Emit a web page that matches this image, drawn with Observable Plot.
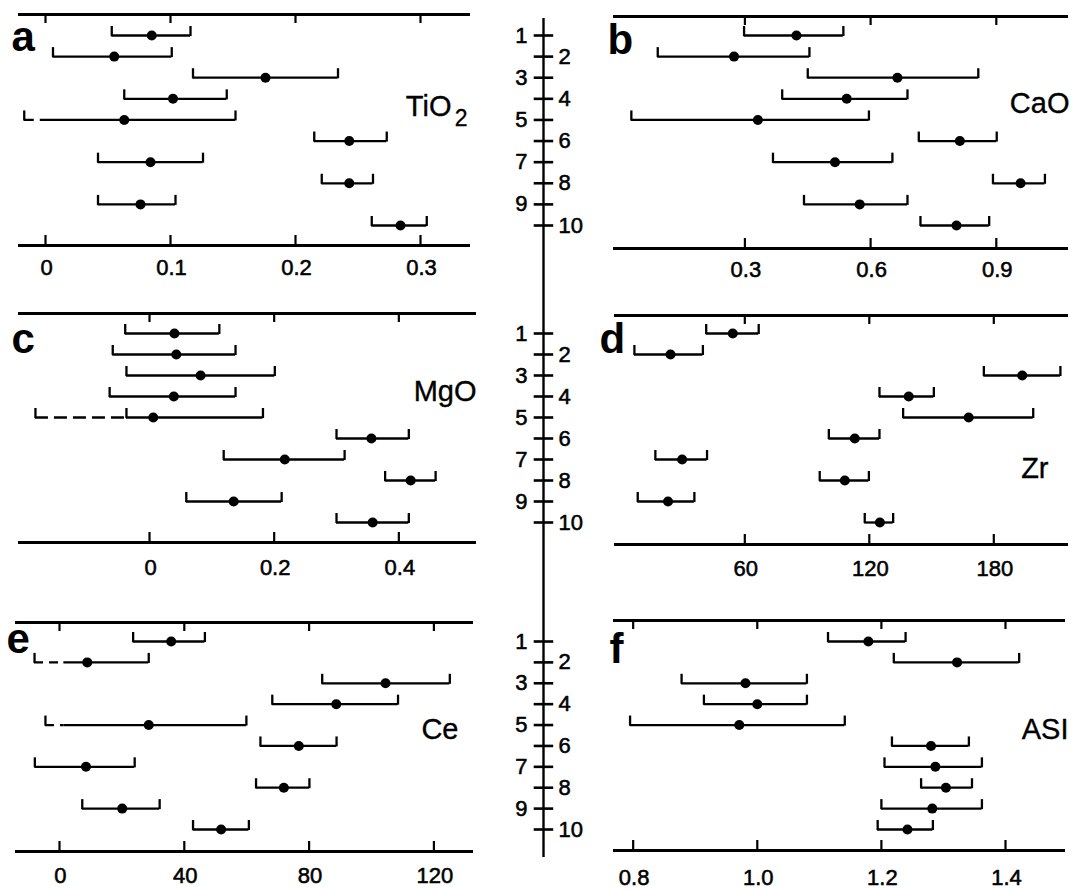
<!DOCTYPE html>
<html><head><meta charset="utf-8">
<script src="https://cdn.jsdelivr.net/npm/d3@7"></script>
<script src="https://cdn.jsdelivr.net/npm/@observablehq/plot@0.6"></script>
<style>
body{margin:0;background:#fff;}
#chart{position:relative;width:1075px;height:889px;background:#fff;overflow:hidden;}
#chart svg{position:absolute;overflow:visible !important;max-width:none !important;}
g[aria-label="ticklab"] text{letter-spacing:2px;}
</style></head><body><div id="chart"></div>
<script>
// sample numbers (rows)
const rows = [1,2,3,4,5,6,7,8,9,10];

// a: TiO2
const tioLo  = [0.053, 0.006, 0.118, 0.063, -0.017, 0.215, 0.042, 0.221, 0.042, 0.261];
const tioMid = [0.085, 0.055, 0.176, 0.102, 0.063, 0.243, 0.084, 0.243, 0.076, 0.284];
const tioHi  = [0.116, 0.101, 0.234, 0.145, 0.152, 0.273, 0.126, 0.262, 0.104, 0.305];
const tioDash = [null, null, null, null, -0.004, null, null, null, null, null];
const tioTicks = [0, 0.1, 0.2, 0.3];
const tioTickLabels = ["0", "0.1", "0.2", "0.3"];

// b: CaO
const caoLo  = [0.298, 0.092, 0.450, 0.389, 0.029, 0.715, 0.367, 0.892, 0.441, 0.719];
const caoMid = [0.423, 0.274, 0.664, 0.543, 0.331, 0.813, 0.515, 0.958, 0.574, 0.805];
const caoHi  = [0.535, 0.454, 0.857, 0.688, 0.596, 0.901, 0.652, 1.016, 0.688, 0.883];
const caoDash = [null, null, null, null, null, null, null, null, null, null];
const caoTicks = [0.3, 0.6, 0.9];
const caoTickLabels = ["0.3", "0.6", "0.9"];

// c: MgO
const mgoLo  = [-0.039, -0.059, -0.037, -0.064, -0.183, 0.300, 0.119, 0.378, 0.059, 0.300];
const mgoMid = [0.040, 0.043, 0.082, 0.039, 0.006, 0.356, 0.217, 0.419, 0.135, 0.358];
const mgoHi  = [0.112, 0.138, 0.201, 0.138, 0.182, 0.416, 0.313, 0.459, 0.212, 0.416];
const mgoDash = [null, null, null, null, -0.037, null, null, null, null, null];
const mgoTicks = [0, 0.2, 0.4];
const mgoTickLabels = ["0", "0.2", "0.4"];

// d: Zr
const zrLo  = [41.4, 6.8, 175.2, 124.9, 136.3, 100.5, 16.9, 96.1, 8.4, 117.8];
const zrMid = [54.2, 24.2, 193.7, 139.0, 167.9, 113.0, 29.8, 108.2, 23.0, 125.1];
const zrHi  = [66.7, 39.8, 212.1, 151.1, 199.0, 124.9, 41.8, 119.8, 35.7, 131.5];
const zrDash = [null, null, null, null, null, null, null, null, null, null];
const zrTicks = [60, 120, 180];
const zrTickLabels = ["60", "120", "180"];

// e: Ce
const ceLo  = [23.6, -8.0, 84.2, 68.2, -4.5, 64.4, -7.9, 63.0, 7.3, 42.8];
const ceMid = [35.8, 8.9, 104.5, 88.7, 28.6, 76.7, 8.5, 71.9, 20.1, 51.8];
const ceHi  = [46.6, 28.6, 125.1, 108.5, 59.9, 88.8, 24.1, 80.1, 32.1, 60.7];
const ceDash = [null, 1.4, null, null, 1.4, null, null, null, null, null];
const ceTicks = [0, 40, 80, 120];
const ceTickLabels = ["0", "40", "80", "120"];

// f: ASI
const asiLo  = [1.114, 1.220, 0.878, 0.914, 0.795, 1.217, 1.205, 1.264, 1.200, 1.194];
const asiMid = [1.179, 1.322, 0.981, 1.000, 0.971, 1.280, 1.287, 1.304, 1.282, 1.242];
const asiHi  = [1.239, 1.422, 1.080, 1.080, 1.141, 1.341, 1.362, 1.346, 1.362, 1.283];
const asiDash = [null, null, null, null, null, null, null, null, null, null];
const asiTicks = [0.8, 1.0, 1.2, 1.4];
const asiTickLabels = ["0.8", "1.0", "1.2", "1.4"];

const FONT = "'Liberation Sans', Arial, Helvetica, sans-serif";
const sec = [{r1:35, r10:225}, {r1:333, r10:522}, {r1:641, r10:829}];

const panels = [
  {id:"a", name:"TiO", sub:"2", lo:tioLo, mid:tioMid, hi:tioHi, dash:tioDash, dashCap:false, dashArr:"10,6",
   ticks:tioTicks, labels:tioTickLabels, domain:[-0.0216, 0.34], x0:18, x1:470, top:14, bottom:245, s:0,
   L:{dx:-7, dy:36}, N:{dx:-19, dy:101}, labDy:22},
  {id:"b", name:"CaO", lo:caoLo, mid:caoMid, hi:caoHi, dash:caoDash, dashCap:false, dashArr:"10,6",
   ticks:caoTicks, labels:caoTickLabels, domain:[-0.0136, 1.0723], x0:613, x1:1068, top:16, bottom:248, s:0,
   L:{dx:-6, dy:37}, N:{dx:1, dy:96}, labDy:21},
  {id:"c", name:"MgO", lo:mgoLo, mid:mgoMid, hi:mgoHi, dash:mgoDash, dashCap:true, dashArr:"13,6",
   ticks:mgoTicks, labels:mgoTickLabels, domain:[-0.2102, 0.5246], x0:18, x1:476, top:313, bottom:542, s:1,
   L:{dx:-7, dy:39}, N:{dx:0, dy:87}, labDy:25},
  {id:"d", name:"Zr", lo:zrLo, mid:zrMid, hi:zrHi, dash:zrDash, dashCap:false, dashArr:"10,6",
   ticks:zrTicks, labels:zrTickLabels, domain:[-2.795, 216.0], x0:614, x1:1068, top:315, bottom:544, s:1,
   L:{dx:-15, dy:37}, N:{dx:-20, dy:162}, labDy:24},
  {id:"e", name:"Ce", lo:ceLo, mid:ceMid, hi:ceHi, dash:ceDash, dashCap:false, dashArr:"9,6",
   ticks:ceTicks, labels:ceTickLabels, domain:[-14.10, 132.69], x0:15, x1:473, top:622, bottom:851, s:2,
   L:{dx:-9, dy:30}, N:{dx:-15, dy:116}, labDy:24},
  {id:"f", name:"ASI", lo:asiLo, mid:asiMid, hi:asiHi, dash:asiDash, dashCap:false, dashArr:"10,6",
   ticks:asiTicks, labels:asiTickLabels, domain:[0.7683, 1.4967], x0:613, x1:1065, top:620, bottom:850, s:2,
   L:{dx:-4, dy:42}, N:{dx:3, dy:118}, labDy:27}
];

const chart = document.getElementById("chart");
const numStyle = {fontSize: 22, fill: "black", stroke: "black", strokeWidth: 0.55};

for (const p of panels) {
  const mL = 22, mR = 12, mT = 6, mB = 50;
  const W = p.x1 - p.x0 + mL + mR;
  const H = p.bottom - p.top + mT + mB;
  const {r1, r10} = sec[p.s];
  const rowPx = (r10 - r1) / 9;
  const yTopV = 1 + (p.top - r1) / rowPx;
  const yBotV = 1 + (p.bottom - r1) / rowPx;
  const px = v => v / rowPx;   // pixels -> row units
  const data = rows.map((r, i) => ({row: r, lo: p.lo[i], mid: p.mid[i], hi: p.hi[i], dash: p.dash[i]}));
  const caps = data.flatMap(d => {
    const c = [{x: d.lo, row: d.row}, {x: d.hi, row: d.row}];
    if (p.dashCap && d.dash != null) c.push({x: d.dash, row: d.row});
    return c;
  });
  const marks = [
    Plot.ruleY([yTopV, yBotV], {strokeWidth: 2.8}),
    Plot.ruleX(p.ticks, {x: d => d, y1: yTopV, y2: yTopV + px(9), strokeWidth: 2.2}),
    Plot.ruleX(p.ticks, {x: d => d, y1: yBotV, y2: yBotV - px(10), strokeWidth: 2.2}),
    Plot.text(p.labels, {x: (d, i) => p.ticks[i], text: d => d, frameAnchor: "bottom", dy: p.labDy, dx: 1,
      lineAnchor: "middle", ariaLabel: "ticklab", ...numStyle}),
    Plot.ruleY(data.filter(d => d.dash != null), {y: "row", x1: "lo", x2: "dash", strokeWidth: 2.3, strokeDasharray: p.dashArr}),
    Plot.ruleY(data, {y: "row", x1: d => d.dash != null ? d.dash : d.lo, x2: "hi", strokeWidth: 2.3}),
    Plot.ruleX(caps, {x: "x", y1: d => d.row + px(1), y2: d => d.row - px(9), strokeWidth: 2.3}),
    Plot.dot(data, {x: "mid", y: "row", r: 5, fill: "black"}),
    Plot.text([p.id], {frameAnchor: "top-left", dx: p.L.dx, dy: p.L.dy, lineAnchor: "bottom", textAnchor: "start",
      fontSize: 42, fontWeight: "bold", fill: "black"}),
    Plot.text([p.name], {frameAnchor: "top-right", dx: p.N.dx, dy: p.N.dy, lineAnchor: "bottom", textAnchor: "end",
      fontSize: 29, fill: "black", stroke: "black", strokeWidth: 0.35})
  ];
  if (p.sub) {
    marks.push(Plot.text([p.sub], {frameAnchor: "top-right", dx: -3, dy: p.N.dy + 10, lineAnchor: "bottom",
      textAnchor: "end", fontSize: 23, fill: "black", stroke: "black", strokeWidth: 0.35}));
  }
  const svg = Plot.plot({
    width: W, height: H, marginLeft: mL, marginRight: mR, marginTop: mT, marginBottom: mB,
    x: {domain: p.domain, axis: null},
    y: {domain: [yTopV, yBotV], range: [mT, H - mB], axis: null},
    style: {fontFamily: FONT, background: "transparent", color: "black"},
    marks
  });
  svg.style.left = (p.x0 - mL) + "px";
  svg.style.top = (p.top - mT) + "px";
  chart.appendChild(svg);
}

// central sample-number axis: three stacked pieces forming one continuous line
const axisTop = 18, axisBottom = 857;
const cuts = [axisTop, 280, 585, axisBottom];
for (let s = 0; s < 3; s++) {
  const {r1, r10} = sec[s];
  const rowPx = (r10 - r1) / 9;
  const y0 = cuts[s], y1 = cuts[s + 1];
  const H = y1 - y0;
  const yTopV = 1 + (y0 - r1) / rowPx;
  const yBotV = 1 + (y1 - r1) / rowPx;
  const svg = Plot.plot({
    width: 120, height: H, margin: 0,
    x: {domain: [-1, 1], axis: null},
    y: {domain: [yTopV, yBotV], range: [0, H], axis: null},
    style: {fontFamily: FONT, background: "transparent", color: "black"},
    marks: [
      Plot.ruleX([0], {strokeWidth: 2.4}),
      Plot.ruleY(rows, {y: d => d, x1: -0.155, x2: 0.17, strokeWidth: 2.6}),
      Plot.text(rows.filter(r => r % 2 === 1), {y: d => d, text: d => String(d), frameAnchor: "middle",
        dx: -16, textAnchor: "end", lineAnchor: "middle", ...numStyle}),
      Plot.text(rows.filter(r => r % 2 === 0), {y: d => d, text: d => String(d), frameAnchor: "middle",
        dx: 15, textAnchor: "start", lineAnchor: "middle", ...numStyle})
    ]
  });
  svg.style.left = "483px";
  svg.style.top = y0 + "px";
  chart.appendChild(svg);
}
</script></body></html>
